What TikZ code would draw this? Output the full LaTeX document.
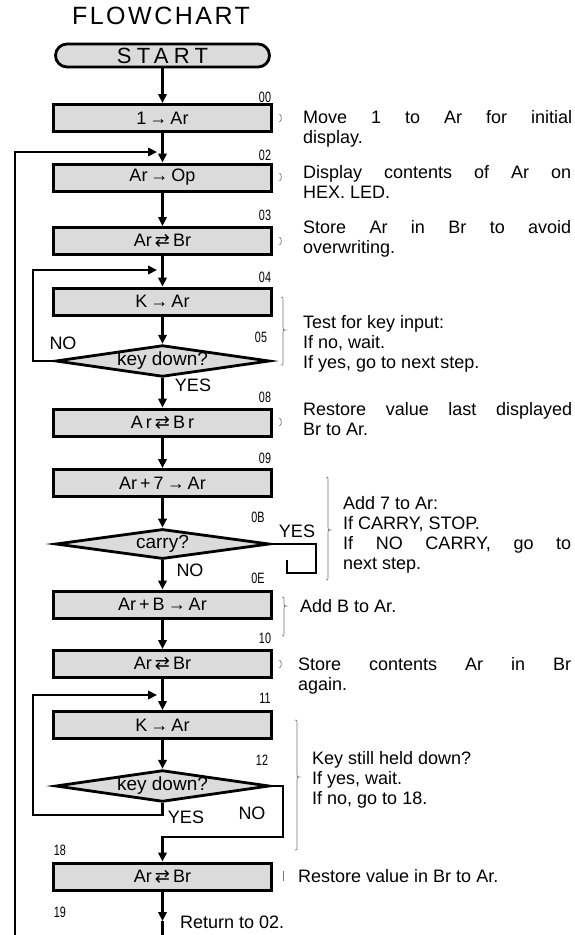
\documentclass[tikz,border=0pt]{standalone}
\usepackage{graphicx}
\usepackage{fontspec}
\setmainfont{Liberation Sans}
\newfontfamily\symf{DejaVu Sans}
\usetikzlibrary{arrows.meta,shapes.geometric}
\newcommand\swp{{\symf ⇄}}
\newcommand\myra{\,→\,}
\newcommand\nl[1]{\scalebox{0.72}[1]{#1}}
\newcommand\jl[2]{\hbox to #1{#2}}
\newcommand\js{\hfill}
\begin{document}
\begin{tikzpicture}[x=1pt,y=-1pt,
  proc/.style={draw, line width=3pt, fill=gray!28, minimum width=218pt, minimum height=27pt, inner sep=0pt, font=\fontsize{18}{20}\selectfont},
  decis/.style={diamond, aspect=6.5, draw, line width=2.8pt, fill=gray!28, minimum width=214pt, minimum height=30pt, inner sep=0pt, font=\fontsize{19}{20}\selectfont},
  term/.style={draw, line width=2.8pt, rounded corners=11.5pt, fill=gray!28, minimum width=214pt, minimum height=23pt, inner sep=0pt},
  conn/.style={line width=2.8pt, -{Triangle[length=9pt,width=8.5pt]}},
  wire/.style={line width=2.8pt},
  numlab/.style={font=\fontsize{15}{15}\selectfont, inner sep=0pt},
  yn/.style={font=\fontsize{18}{18}\selectfont, inner sep=0pt},
  desc/.style={anchor=base west, inner sep=0pt, align=left, font=\fontsize{18}{20}\selectfont},
  brace/.style={black!55, line width=0.7pt}]
\useasboundingbox (0,0) rectangle (574,935);

\node[font=\fontsize{25}{25}\selectfont\addfontfeatures{LetterSpace=10}] (title) at (161,16) {FLOWCHART};

\node[term] (start) at (162.5,55.5) {\fontsize{22}{22}\selectfont\addfontfeatures{LetterSpace=24}START};
\node[proc] (b00) at (162.5,118) {1\myra Ar};
\node[proc] (b02) at (162.5,177.5) {Ar\myra Op};
\node[proc] (b03) at (162.5,241) {Ar\,\swp\,Br};
\node[proc] (b04) at (162.5,301.5) {K\myra Ar};
\node[decis] (d05) at (162.5,361) {key down?};
\node[proc] (b08) at (162.5,422.5) {A\,r\,\swp\,B\,r};
\node[proc] (b09) at (162.5,483) {Ar\,+\,7\myra Ar};
\node[decis] (d0B) at (162.5,544) {carry?};
\node[proc] (b0E) at (162.5,604.5) {Ar\,+\,B\myra Ar};
\node[proc] (b10) at (162.5,664) {Ar\,\swp\,Br};
\node[proc] (b11) at (162.5,725) {K\myra Ar};
\node[decis] (d12) at (162.5,786) {key down?};
\node[proc] (b18) at (162.5,876.5) {Ar\,\swp\,Br};

\coordinate (j02) at (157,152);
\coordinate (lbot) at (15,935);
\coordinate (j04) at (157,270);
\coordinate (l2) at (33,270);
\coordinate (h1) at (316,573);
\coordinate (h2) at (287,560);
\coordinate (l3) at (33,815);
\coordinate (j11) at (157,695);
\coordinate (n1) at (283,837);
\coordinate (endc) at (162.5,921);
\coordinate (endb) at (162.5,935);

\draw[conn] (start) -- (b00);
\draw[conn] (b00) -- (b02);
\draw[conn] (lbot) |- (j02);
\draw[conn] (b02) -- (b03);
\draw[conn] (b03) -- (b04);
\draw[conn] (b04) -- (d05);
\draw[conn] (d05.west) -| (l2) -- (j04);
\draw[conn] (d05) -- (b08);
\draw[conn] (b08) -- (b09);
\draw[conn] (b09) -- (d0B);
\draw[wire] (d0B.east) -| (h1) -| (h2);
\draw[conn] (d0B) -- (b0E);
\draw[conn] (b0E) -- (b10);
\draw[conn] (b10) -- (b11);
\draw[conn] (b11) -- (d12);
\draw[conn] (d12.south) |- (l3) |- (j11);
\draw[conn] (d12.east) -| (n1) -| (b18.north);
\draw[conn] (b18) -- (endc);
\draw[wire] (endc) -- (endb);

% step numbers
\node[numlab] (n00) at (265,97) {\nl{00}};
\node[numlab] (n02) at (265,155) {\nl{02}};
\node[numlab] (n03) at (265,215) {\nl{03}};
\node[numlab] (n04) at (265,277) {\nl{04}};
\node[numlab] (n05) at (261,337) {\nl{05}};
\node[numlab] (n08) at (265,397) {\nl{08}};
\node[numlab] (n09) at (265,458) {\nl{09}};
\node[numlab] (n0B) at (258,517) {\nl{0B}};
\node[numlab] (n0E) at (258,578) {\nl{0E}};
\node[numlab] (n10) at (265,638) {\nl{10}};
\node[numlab] (n11) at (265,698) {\nl{11}};
\node[numlab] (n12) at (262,760) {\nl{12}};
\node[numlab] (n18) at (60,850) {\nl{18}};
\node[numlab] (n19) at (60,912) {\nl{19}};

% yes / no
\node[yn] (no1) at (63,343) {NO};
\node[yn] (yes1) at (193,385) {YES};
\node[yn] (yes2) at (297,531) {YES};
\node[yn] (no2) at (190,570) {NO};
\node[yn] (yes3) at (186,817) {YES};
\node[yn] (no3) at (252,813) {NO};

% descriptions (base anchor = baseline of last line)
\node[desc] (t1) at (303,143.5) {\jl{269pt}{Move\js 1\js to\js Ar\js for\js initial}\\display.};
\node[desc] (t2) at (303,198.5) {\jl{268pt}{Display\js contents\js of\js Ar\js on}\\HEX. LED.};
\node[desc] (t3) at (303,253.5) {\jl{268pt}{Store\js Ar\js in\js Br\js to\js avoid}\\overwriting.};
\node[desc] (t4) at (303,368.5) {Test for key input:\\If no, wait.\\If yes, go to next step.};
\node[desc] (t5) at (303,435.5) {\jl{269pt}{Restore\js value\js last\js displayed}\\Br to Ar.};
\node[desc] (t6) at (343,569.5) {Add 7 to Ar:\\If CARRY, STOP.\\\jl{228pt}{If\js NO\js CARRY,\js go\js to}\\next step.};
\node[desc] (t7) at (300,612.5) {Add B to Ar.};
\node[desc] (t8) at (298,690.5) {\jl{273pt}{Store\js contents\js Ar\js in\js Br}\\again.};
\node[desc] (t9) at (312,804.5) {Key still held down?\\If yes, wait.\\If no, go to 18.};
\node[desc] (t10) at (298,882.5) {Restore value in Br to Ar.};
\node[desc] (t11) at (180,928.5) {Return to 02.};

% side braces
\foreach \yy in {118,177,241,422,664} {
  \draw[brace] (279.5,\yy-4) .. controls (282,\yy-2) and (282,\yy+2) .. (279.5,\yy+4);
}
\draw[brace] (283,871) -- (283,881);
\draw[brace] (281,297) .. controls (283,297) .. (283,300) -- (283,327) .. controls (283,330) .. (285.5,330) .. controls (283,330) .. (283,333) -- (283,362) .. controls (283,365) .. (281,365);
\draw[brace] (326,477) .. controls (328,477) .. (328,480) -- (328,527) .. controls (328,530) .. (330.5,530) .. controls (328,530) .. (328,533) -- (328,577) .. controls (328,580) .. (326,580);
\draw[brace] (282,597) .. controls (284,597) .. (284,600) -- (284,603) .. controls (284,606) .. (286.5,606) .. controls (284,606) .. (284,609) -- (284,633) .. controls (284,636) .. (282,636);
\draw[brace] (295,720) .. controls (297,720) .. (297,723) -- (297,774) .. controls (297,777) .. (299.5,777) .. controls (297,777) .. (297,780) -- (297,847) .. controls (297,850) .. (295,850);
\end{tikzpicture}
\end{document}
